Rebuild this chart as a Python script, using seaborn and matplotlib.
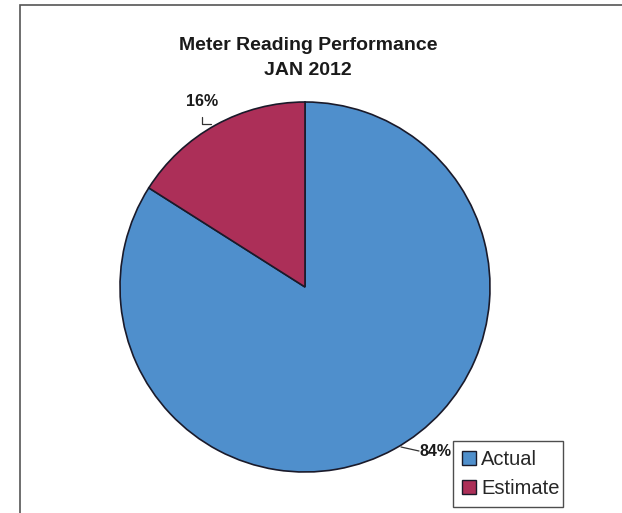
import matplotlib
matplotlib.use("Agg")
import matplotlib.pyplot as plt
import seaborn as sns
from matplotlib.patches import Rectangle

# data
categories = ["Actual", "Estimate"]
shares = [84, 16]
colors = ["#4f8fcc", "#ac2f58"]

sns.set_theme(style="white")
plt.rcParams['font.family'] = ['Liberation Sans', 'DejaVu Sans']

W, H = 622, 513
fig = plt.figure(figsize=(W / 100, H / 100), dpi=100)
fig.patch.set_facecolor("white")

# outer frame of the chart (runs off the right and bottom of the scan)
fig.patches.append(Rectangle((20 / W, -0.05), 1.1, 1 - 5 / H + 0.05,
                             transform=fig.transFigure, fill=False,
                             edgecolor="#555555", linewidth=1.2))

# pie axes: centre (305, 287) px, radius 185 px
cx, cy, r = 305, 287, 185
ax = fig.add_axes([(cx - r) / W, (H - cy - r) / H, 2 * r / W, 2 * r / H])
wedges, _ = ax.pie(shares, colors=colors, startangle=90, counterclock=False,
                   radius=1.0, wedgeprops=dict(edgecolor="#1a1a2a", linewidth=1.2))
ax.set_xlim(-1, 1)
ax.set_ylim(-1, 1)
ax.set_aspect("auto")
ax.axis("off")

# title
fig.text(308 / W, 1 - 45 / H, "Meter Reading Performance", ha="center", va="center",
         fontsize=14, fontweight="bold", color="#1a1a1a")
fig.text(308 / W, 1 - 71 / H, "JAN 2012", ha="center", va="center",
         fontsize=14, fontweight="bold", color="#1a1a1a")

# data labels with leader lines
def px(x, y):
    return ((x - cx) / r, (cy - y) / r)

ax.text(*px(202, 101), f"{shares[1]}%", ha="center", va="center",
        fontsize=11.5, fontweight="bold", color="#1a1a1a", clip_on=False)
ax.plot(*zip(px(202, 117), px(202, 124), px(211, 124)), color="#333333",
        linewidth=0.9, clip_on=False)
ax.text(*px(435, 451), f"{shares[0]}%", ha="center", va="center",
        fontsize=11.5, fontweight="bold", color="#1a1a1a", clip_on=False)
ax.plot(*zip(px(401, 447), px(419, 451)), color="#333333",
        linewidth=0.9, clip_on=False)

# legend
leg = fig.legend(wedges, categories, loc="lower left",
                 bbox_to_anchor=(453 / W, 1 - 507 / H, 110 / W, 64 / H),
                 mode="expand", fontsize=14.5, frameon=True, fancybox=False,
                 handlelength=0.7, handleheight=0.7, handletextpad=0.25,
                 borderpad=0.45, labelspacing=0.5, borderaxespad=0)
leg.get_frame().set_edgecolor("#222222")
leg.get_frame().set_linewidth(1.0)
for h in leg.legend_handles:
    h.set_edgecolor("#1a1a2a")
    h.set_linewidth(1.0)

fig.savefig("out.png", dpi=100)
